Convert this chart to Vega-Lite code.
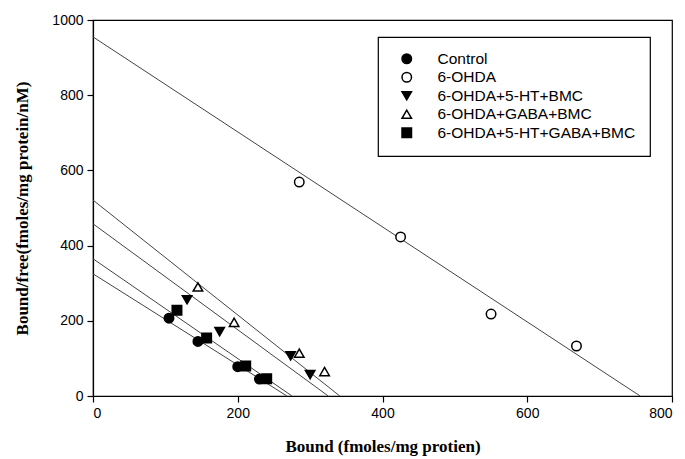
{
  "$schema": "https://vega.github.io/schema/vega-lite/v6.json",
  "width": 579,
  "height": 376,
  "autosize": {"type": "none"},
  "padding": {"left": 93, "top": 20, "right": 13, "bottom": 63},
  "background": "white",
  "config": {
    "view": {"stroke": "black", "strokeWidth": 1.2},
    "axis": {
      "grid": false,
      "domainColor": "black",
      "domainWidth": 1.2,
      "tickColor": "black",
      "tickWidth": 1.2,
      "tickSize": 6,
      "labelFont": "Liberation Sans",
      "labelFontSize": 14,
      "labelColor": "black",
      "titleFont": "Liberation Serif",
      "titleFontWeight": "bold",
      "titleFontSize": 17,
      "titleColor": "black"
    },
    "legend": {
      "orient": "none",
      "legendX": 285,
      "legendY": 17,
      "strokeColor": "black",
      "strokeWidth": 1.2,
      "fillColor": "white",
      "padding": 14,
      "symbolOffset": 7,
      "labelOffset": 23,
      "labelFont": "Liberation Sans",
      "labelFontSize": 15.5,
      "labelColor": "black",
      "rowPadding": 1.5,
      "symbolSize": 90,
      "symbolStrokeWidth": 1.5,
      "labelLimit": 400
    }
  },
  "datasets": {
    "points": [
      {"group": "Control", "x": 105, "y": 207},
      {"group": "Control", "x": 145, "y": 145},
      {"group": "Control", "x": 200, "y": 78},
      {"group": "Control", "x": 230, "y": 45},
      {"group": "6-OHDA", "x": 285, "y": 569},
      {"group": "6-OHDA", "x": 425, "y": 423},
      {"group": "6-OHDA", "x": 550, "y": 218},
      {"group": "6-OHDA", "x": 668, "y": 133},
      {"group": "6-OHDA+5-HT+BMC", "x": 130, "y": 256},
      {"group": "6-OHDA+5-HT+BMC", "x": 175, "y": 171},
      {"group": "6-OHDA+5-HT+BMC", "x": 273, "y": 107},
      {"group": "6-OHDA+5-HT+BMC", "x": 300, "y": 57},
      {"group": "6-OHDA+GABA+BMC", "x": 145, "y": 290},
      {"group": "6-OHDA+GABA+BMC", "x": 195, "y": 196},
      {"group": "6-OHDA+GABA+BMC", "x": 285, "y": 114},
      {"group": "6-OHDA+GABA+BMC", "x": 320, "y": 65},
      {"group": "6-OHDA+5-HT+GABA+BMC", "x": 116, "y": 228},
      {"group": "6-OHDA+5-HT+GABA+BMC", "x": 157, "y": 154},
      {"group": "6-OHDA+5-HT+GABA+BMC", "x": 211, "y": 80},
      {"group": "6-OHDA+5-HT+GABA+BMC", "x": 240, "y": 46}
    ],
    "lines": [
      {"group": "Control", "x": 0, "y": 325},
      {"group": "Control", "x": 268, "y": 0},
      {"group": "6-OHDA", "x": 0, "y": 955},
      {"group": "6-OHDA", "x": 756, "y": 0},
      {"group": "6-OHDA+5-HT+BMC", "x": 0, "y": 458},
      {"group": "6-OHDA+5-HT+BMC", "x": 325, "y": 0},
      {"group": "6-OHDA+GABA+BMC", "x": 0, "y": 521},
      {"group": "6-OHDA+GABA+BMC", "x": 341, "y": 0},
      {"group": "6-OHDA+5-HT+GABA+BMC", "x": 0, "y": 365},
      {"group": "6-OHDA+5-HT+GABA+BMC", "x": 275, "y": 0}
    ]
  },
  "layer": [
    {
      "data": {"name": "lines"},
      "mark": {"type": "line", "color": "#444444", "strokeWidth": 1},
      "encoding": {
        "x": {"field": "x", "type": "quantitative"},
        "y": {"field": "y", "type": "quantitative"},
        "detail": {"field": "group"}
      }
    },
    {
      "data": {"name": "points"},
      "mark": {"type": "point", "strokeWidth": 1.5, "opacity": 1, "size": 90},
      "encoding": {
        "x": {
          "field": "x", "type": "quantitative",
          "scale": {"domain": [0, 800], "nice": false},
          "axis": {"values": [0, 200, 400, 600, 800], "format": "d", "title": "Bound (fmoles/mg protien)", "labelPadding": 4, "titlePadding": 18}
        },
        "y": {
          "field": "y", "type": "quantitative",
          "scale": {"domain": [0, 1000], "nice": false},
          "axis": {"values": [0, 200, 400, 600, 800, 1000], "format": "d", "title": "Bound/free(fmoles/mg protein/nM)", "labelPadding": 4, "titlePadding": 20}
        },
        "shape": {
          "field": "group", "type": "nominal",
          "scale": {
            "domain": ["Control", "6-OHDA", "6-OHDA+5-HT+BMC", "6-OHDA+GABA+BMC", "6-OHDA+5-HT+GABA+BMC"],
            "range": ["circle", "circle", "triangle-down", "triangle-up", "square"]
          },
          "legend": {"title": null}
        },
        "fill": {
          "field": "group", "type": "nominal",
          "scale": {
            "domain": ["Control", "6-OHDA", "6-OHDA+5-HT+BMC", "6-OHDA+GABA+BMC", "6-OHDA+5-HT+GABA+BMC"],
            "range": ["black", "white", "black", "white", "black"]
          },
          "legend": {"title": null}
        },
        "stroke": {
          "field": "group", "type": "nominal",
          "scale": {
            "domain": ["Control", "6-OHDA", "6-OHDA+5-HT+BMC", "6-OHDA+GABA+BMC", "6-OHDA+5-HT+GABA+BMC"],
            "range": ["black", "black", "black", "black", "black"]
          },
          "legend": {"title": null}
        }
      }
    }
  ]
}
